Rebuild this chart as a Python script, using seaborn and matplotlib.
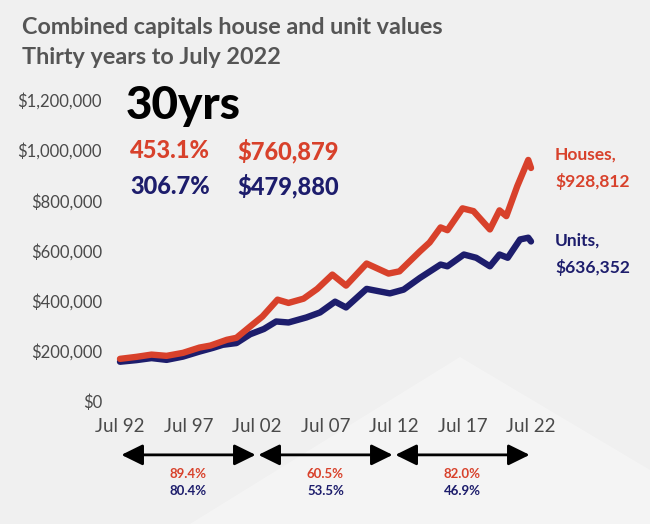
import numpy as np
import pandas as pd
import matplotlib
matplotlib.use("Agg")
import matplotlib.pyplot as plt
import seaborn as sns

# values (years after Jul 1992, dollars in thousands)
house_t = [0, 1.2, 2.3, 3.4, 4.6, 5.8, 6.6, 7.8, 8.5, 9.5, 10.4, 11.5, 12.3, 13.4, 14.4,
           15.5, 16.5, 18.0, 19.6, 20.4, 21.9, 22.6, 23.4, 23.9, 25.0, 25.8, 27.0, 27.7,
           28.2, 29.0, 29.8, 30.0]
house_k = [168, 176, 185, 180, 192, 213, 221, 244, 252, 297, 337, 404, 391, 408, 447,
           504, 460, 548, 508, 517, 597, 632, 692, 681, 768, 757, 684, 760,
           737, 857, 961, 929]
unit_t = [0, 1.2, 2.3, 3.4, 4.6, 5.8, 6.8, 7.5, 8.5, 9.5, 10.5, 11.4, 12.3, 13.6, 14.6,
          15.7, 16.5, 18.0, 19.7, 20.7, 21.9, 23.4, 23.9, 25.1, 26.0, 27.0, 27.7, 28.3,
          29.2, 29.8, 30.0]
unit_k = [156.5, 163, 171, 164, 177, 197, 212, 224, 231, 266, 287, 317, 313, 333, 353,
          396, 373, 447, 429, 444, 491, 544, 537, 584, 571, 537, 584, 571,
          644, 651, 636]

tick_years = [1992.5, 1997.5, 2002.5, 2007.5, 2012.5, 2017.5, 2022.5]
tick_labels = ["Jul 92", "Jul 97", "Jul 02", "Jul 07", "Jul 12", "Jul 17", "Jul 22"]
y_ticks = [0, 200000, 400000, 600000, 800000, 1000000, 1200000]

period_edges = [1992.5, 2002.5, 2012.5, 2022.5]
period_house = ["89.4%", "60.5%", "82.0%"]
period_unit = ["80.4%", "53.5%", "46.9%"]

RED = "#d8412b"
NAVY = "#1d1d6c"
GREY = "#555555"
BG = "#f0f0f0"

W, H = 650, 524


def fpos(x, y):
    return x / W, 1 - y / H


sns.set_style("white")
plt.rcParams["font.family"] = ["Lato", "DejaVu Sans"]

fig = plt.figure(figsize=(W / 100, H / 100), dpi=100, facecolor=BG)
# faint lighter wedge in the background
wedge = [fpos(190, 524), fpos(460, 357), fpos(650, 470), fpos(650, 524)]
fig.patches.append(plt.Polygon(wedge, closed=True, transform=fig.transFigure,
                               facecolor="white", alpha=0.3, edgecolor="none", zorder=-5))

ax = fig.add_axes([120 / W, 1 - 401 / H, (531 - 120) / W, (401 - 100) / H])
ax.set_zorder(2)
ax.set_facecolor("none")

houses = pd.DataFrame({"year": np.array(house_t) + 1992.5, "value": np.array(house_k) * 1000})
units = pd.DataFrame({"year": np.array(unit_t) + 1992.5, "value": np.array(unit_k) * 1000})

for df, col in [(units, NAVY), (houses, RED)]:
    sns.lineplot(data=df, x="year", y="value", color=col, linewidth=4.6, ax=ax,
                 solid_capstyle="round", solid_joinstyle="round", clip_on=False)

ax.set_xlim(1992.5, 2022.5)
ax.set_ylim(0, 1200000)
ax.set_xticks(tick_years)
ax.set_xticklabels(tick_labels)
ax.set_yticks(y_ticks)
ax.set_yticklabels(["$0" if v == 0 else f"${v:,.0f}" for v in y_ticks])
ax.tick_params(axis="both", length=0, colors="#4a4a4a")
ax.tick_params(axis="y", pad=13, labelsize=12)
ax.tick_params(axis="x", pad=12, labelsize=13.5)
ax.set_xlabel("")
ax.set_ylabel("")
sns.despine(ax=ax, left=True, bottom=True)
ax.grid(False)

# title
fig.text(*fpos(22, 27), "Combined capitals house and unit values", fontsize=16.8,
         fontweight="bold", color=GREY, va="center", ha="left")
fig.text(*fpos(22, 57), "Thirty years to July 2022", fontsize=16.8,
         fontweight="bold", color=GREY, va="center", ha="left")

# headline figures
fig.text(*fpos(126, 106), "30yrs", fontsize=33, fontweight="black", color="black",
         va="center", ha="left")
fig.text(*fpos(130, 151), "453.1%", fontsize=17, fontweight="black", color=RED, va="center")
fig.text(*fpos(237, 151), "$760,879", fontsize=17, fontweight="black", color=RED, va="center")
fig.text(*fpos(130, 186), "306.7%", fontsize=17, fontweight="black", color=NAVY, va="center")
fig.text(*fpos(237, 186), "$479,880", fontsize=17, fontweight="black", color=NAVY, va="center")

# end labels
fig.text(*fpos(555, 155), "Houses,", fontsize=12.5, fontweight="bold", color=RED, va="center")
fig.text(*fpos(555, 181), "$928,812", fontsize=12.5, fontweight="bold", color=RED, va="center")
fig.text(*fpos(555, 241), "Units,", fontsize=12.5, fontweight="bold", color=NAVY, va="center")
fig.text(*fpos(555, 267), "$636,352", fontsize=12.5, fontweight="bold", color=NAVY, va="center")

# ten-year period arrows
for i in range(3):
    x0, x1 = period_edges[i], period_edges[i + 1]
    ax.annotate("", xy=(x1, -0.179), xytext=(x0, -0.179),
                xycoords=("data", "axes fraction"), textcoords=("data", "axes fraction"),
                arrowprops=dict(arrowstyle="<|-|>,head_length=0.65,head_width=0.32",
                                mutation_scale=20, color="black", lw=2,
                                shrinkA=1, shrinkB=1))
    mid = (x0 + x1) / 2
    ax.text(mid, -0.243, period_house[i], transform=ax.get_xaxis_transform(),
            ha="center", va="center", fontsize=9.5, fontweight="bold", color=RED)
    ax.text(mid, -0.299, period_unit[i], transform=ax.get_xaxis_transform(),
            ha="center", va="center", fontsize=9.5, fontweight="bold", color=NAVY)

fig.savefig("out.png", dpi=100, facecolor=BG)
